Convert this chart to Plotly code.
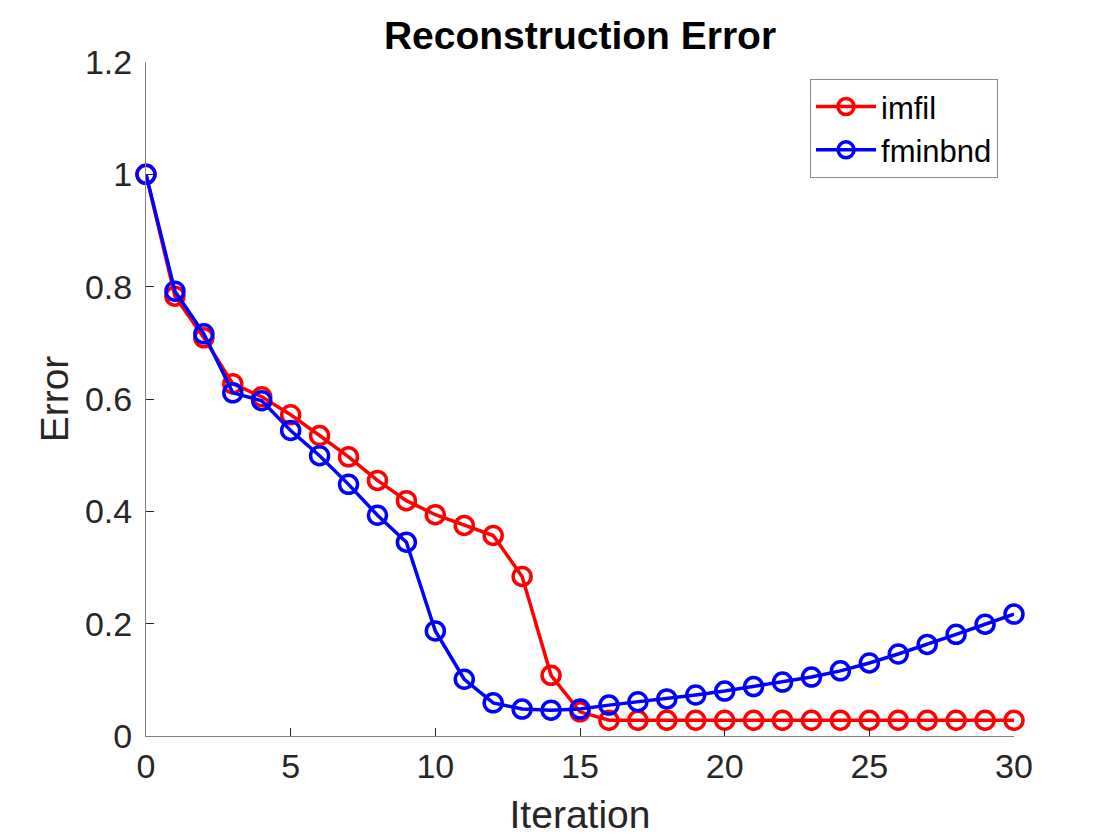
import plotly.graph_objects as go

iterations = list(range(31))
imfil = [1.0, 0.783, 0.709, 0.627, 0.604, 0.572, 0.535, 0.497, 0.455, 0.419,
         0.394, 0.375, 0.357, 0.284, 0.108, 0.043] + [0.028] * 15
fminbnd = [1.0, 0.792, 0.716, 0.611, 0.597, 0.544, 0.499, 0.448, 0.393, 0.345,
           0.187, 0.101, 0.059, 0.048, 0.046, 0.048, 0.055, 0.061, 0.066, 0.073,
           0.080, 0.088, 0.096, 0.105, 0.116, 0.130, 0.146, 0.163, 0.181, 0.199, 0.217]

FONT = "Liberation Sans, Arial, Helvetica, sans-serif"

fig = go.Figure()
for name, vals, col in [("imfil", imfil, "#ff0000"), ("fminbnd", fminbnd, "#0000ff")]:
    fig.add_trace(go.Scatter(
        x=iterations, y=vals, name=name, mode="lines+markers",
        line=dict(color=col, width=3.5),
        marker=dict(symbol="circle-open", size=18, color=col, line=dict(width=3.5, color=col)),
        cliponaxis=False,
    ))

fig.update_layout(
    width=1120, height=840,
    paper_bgcolor="white", plot_bgcolor="white",
    margin=dict(l=138, r=114, t=54, b=112),
    font=dict(family=FONT, color="#262626", size=34),
    title=dict(text="<b>Reconstruction Error</b>", x=0.5, xanchor="center",
               xref="paper", y=0.968, yanchor="middle",
               font=dict(family=FONT, size=39, color="black")),
    showlegend=True,
    legend=dict(x=0.9816, y=0.975, xanchor="right", yanchor="top",
                bgcolor="white", bordercolor="#888888", borderwidth=1,
                font=dict(family=FONT, size=31, color="black"),
                itemwidth=60, tracegroupgap=0),
)
fig.update_xaxes(range=[0, 30], tickvals=[0, 5, 10, 15, 20, 25, 30],
                 showgrid=False, zeroline=False, showline=True,
                 linecolor="#808080", linewidth=1,
                 ticks="inside", ticklen=8, tickcolor="#262626",
                 tickfont=dict(size=34, color="#262626"),
                 title=dict(text="Iteration", font=dict(size=39, color="#262626"), standoff=16))
fig.update_yaxes(range=[0, 1.2], tickvals=[0, 0.2, 0.4, 0.6, 0.8, 1.0, 1.2],
                 ticktext=["0", "0.2", "0.4", "0.6", "0.8", "1", "1.2"],
                 showgrid=False, zeroline=False, showline=True,
                 linecolor="#808080", linewidth=1,
                 ticks="inside", ticklen=8, tickcolor="#262626",
                 ticklabelstandoff=6,
                 tickfont=dict(size=34, color="#262626"),
                 title=dict(text="Error", font=dict(size=39, color="#262626"), standoff=4))

fig.write_html("out.html")
